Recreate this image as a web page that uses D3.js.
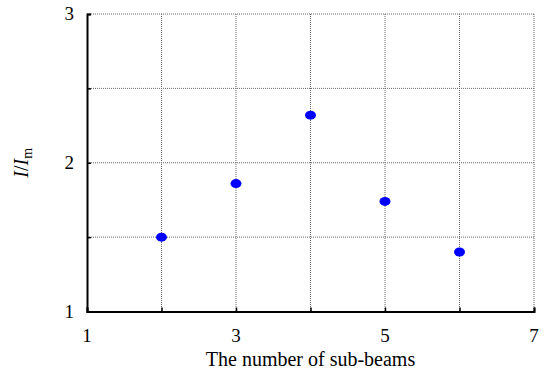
<!DOCTYPE html>
<html>
<head>
<meta charset="utf-8">
<script src="https://cdn.jsdelivr.net/npm/d3@7"></script>
<style>
  body { margin: 0; background: #fff; }
  text { font-family: "Liberation Serif", "Times New Roman", serif; fill: #000; }
</style>
</head>
<body>
<svg width="549" height="374"></svg>
<script>
// data
const subBeams = [2, 3, 4, 5, 6];
const ratio = [1.50, 1.86, 2.32, 1.74, 1.40];
const xTickLabels = [1, 3, 5, 7];
const yTickLabels = [1, 2, 3];

const svg = d3.select("svg");
const mLeft = 87, mRight = 534, mTop = 14, mBottom = 311.5;

const x = d3.scaleLinear().domain([1, 7]).range([mLeft, mRight]);
const y = d3.scaleLinear().domain([1, 3]).range([mBottom, mTop]);

// dotted grid (also forms top and right border)
const grid = svg.append("g")
  .attr("stroke", "#666").attr("stroke-width", 1).attr("stroke-dasharray", "1,1");
grid.selectAll("line.v").data(d3.range(2, 8)).join("line")
  .attr("class", "v")
  .attr("x1", d => x(d)).attr("x2", d => x(d))
  .attr("y1", mTop).attr("y2", mBottom);
grid.selectAll("line.h").data(d3.range(1.5, 3.01, 0.5)).join("line")
  .attr("class", "h")
  .attr("x1", mLeft).attr("x2", mRight)
  .attr("y1", d => y(d)).attr("y2", d => y(d));

// axes, ticks pointing inward
const xAxis = d3.axisTop(x).tickValues(d3.range(1, 8)).tickSize(4).tickFormat("");
svg.append("g").attr("transform", `translate(0,${mBottom})`).call(xAxis)
  .call(g => g.select(".domain").attr("stroke-width", 2))
  .call(g => g.selectAll(".tick line").attr("stroke-width", 1.5));

const yAxis = d3.axisRight(y).tickValues(d3.range(1, 3.01, 0.5)).tickSize(4).tickFormat("");
svg.append("g").attr("transform", `translate(${mLeft},0)`).call(yAxis)
  .call(g => g.select(".domain").attr("stroke-width", 2))
  .call(g => g.selectAll(".tick line").attr("stroke-width", 1.5));

// tick labels
svg.append("g").selectAll("text").data(xTickLabels).join("text")
  .attr("x", d => x(d)).attr("y", mBottom + 30)
  .attr("text-anchor", "middle").attr("font-size", 19)
  .text(d => d);
svg.append("g").selectAll("text").data(yTickLabels).join("text")
  .attr("x", mLeft - 13).attr("y", d => y(d) + 6)
  .attr("text-anchor", "end").attr("font-size", 19)
  .text(d => d);

// axis titles
svg.append("text")
  .attr("x", (mLeft + mRight) / 2).attr("y", 366)
  .attr("text-anchor", "middle").attr("font-size", 20)
  .text("The number of sub-beams");

const yt = svg.append("text")
  .attr("transform", `translate(28,${(mTop + mBottom) / 2}) rotate(-90)`)
  .attr("text-anchor", "middle").attr("font-size", 20);
yt.append("tspan").attr("font-style", "italic").text("I");
yt.append("tspan").text("/");
yt.append("tspan").attr("font-style", "italic").text("I");
yt.append("tspan").attr("font-size", 14).attr("dy", 4).text("m");

// points
svg.append("g").selectAll("ellipse").data(subBeams).join("ellipse")
  .attr("cx", d => x(d)).attr("cy", (d, i) => y(ratio[i]))
  .attr("rx", 5.5).attr("ry", 4.5)
  .attr("fill", "#0000ff");
</script>
</body>
</html>
